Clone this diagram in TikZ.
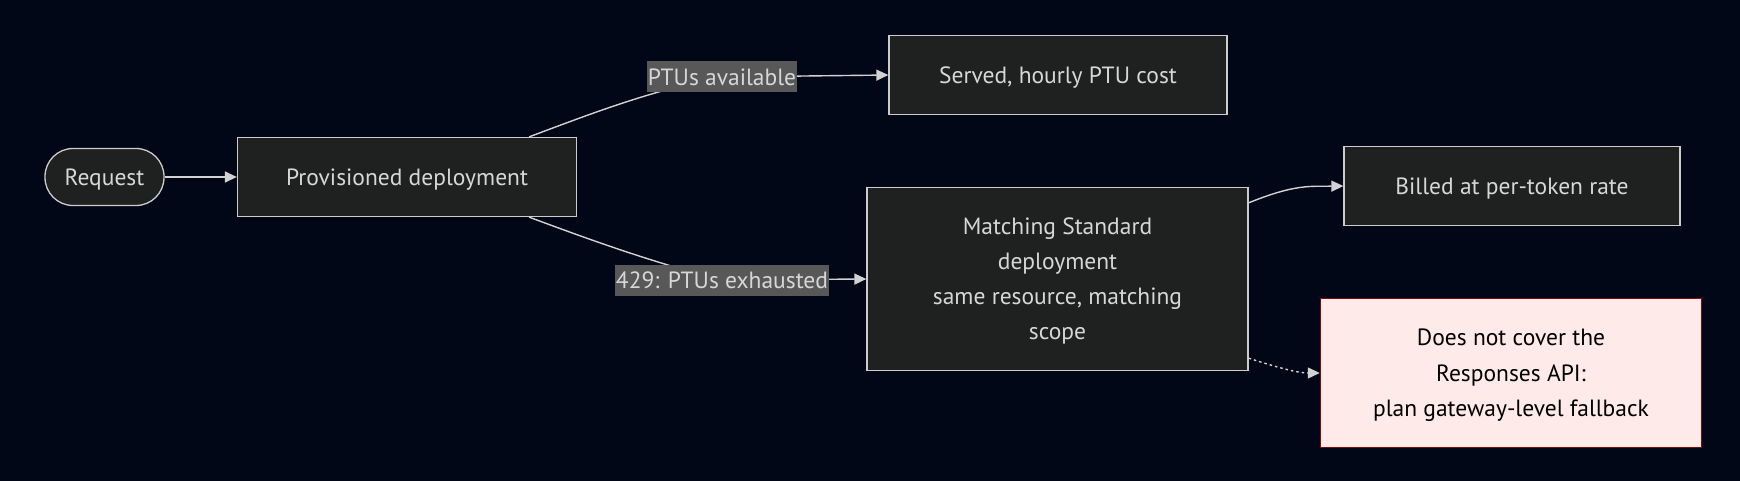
\documentclass[tikz,border=0pt]{standalone}
\usepackage{fontspec}
\setmainfont{PT Sans}
\usetikzlibrary{arrows.meta}
\definecolor{bgc}{RGB}{2,7,23}
\definecolor{nodefill}{RGB}{31,32,32}
\definecolor{nodeline}{RGB}{204,204,204}
\definecolor{txt}{RGB}{215,215,215}
\definecolor{edgec}{RGB}{210,210,210}
\definecolor{lblbg}{RGB}{88,88,88}
\definecolor{warnfill}{RGB}{255,234,234}
\definecolor{warnline}{RGB}{130,10,10}
\tikzset{
  box/.style={draw=nodeline, fill=nodefill, line width=1.3pt, text=txt, align=center,
    font=\fontsize{23.5}{35}\selectfont, inner sep=0pt, text depth=0pt},
  warnbox/.style={draw=warnline, fill=warnfill, line width=1.5pt, text=black, align=center,
    font=\fontsize{23.5}{35.5}\selectfont, inner sep=0pt, text depth=0pt},
  lbl/.style={fill=lblbg, text=txt, font=\fontsize{23.5}{26}\selectfont, inner sep=1pt,
    minimum height=31pt},
  edge/.style={draw=edgec, line width=1.4pt, -{Triangle[length=12pt,width=11pt]}},
  plainedge/.style={draw=edgec, line width=1.4pt},
}
\begin{document}
\begin{tikzpicture}[x=1pt,y=-1pt]
\fill[bgc] (0,0) rectangle (1740,481);
\useasboundingbox (0,0) rectangle (1740,481);

\node[box, rounded corners=28pt, minimum width=119pt, minimum height=57pt] (req) at (104.5,177) {Request};
\node[box, minimum width=339pt, minimum height=79pt] (prov) at (407,177) {Provisioned deployment};
\node[box, minimum width=338pt, minimum height=79pt] (served) at (1058,75) {Served, hourly PTU cost};
\node[box, minimum width=381pt, minimum height=183pt] (match) at (1057.5,279) {Matching Standard\\deployment\\same resource, matching\\scope};
\node[box, minimum width=336pt, minimum height=79pt] (billed) at (1512,186) {Billed at per-token rate};
\node[warnbox, minimum width=381pt, minimum height=149pt] (warn) at (1511,373) {Does not cover the\\Responses API:\\plan gateway-level fallback};

\coordinate (l1) at (722,77);
\coordinate (l2) at (722,280);

\draw[edge] (req.east) -- (prov.west);
\draw[plainedge] ([xshift=-48pt]prov.north east) .. controls (580,118) and (650,90) .. (l1);
\draw[edge] (l1) -- (served.west);
\draw[plainedge] ([xshift=-48pt]prov.south east) .. controls (580,236) and (650,262) .. (l2);
\draw[edge] (l2) -- (match.west);
\draw[edge] ([yshift=-16pt]match.north east) .. controls (1295,184) and (1310,186.5) .. (billed.west);
\draw[edge, dash pattern=on 2.5pt off 3pt] ([yshift=13pt]match.south east) .. controls (1285,370) and (1300,373) .. (warn.west);

\node[lbl] (lab1) at (l1) {PTUs available};
\node[lbl] (lab2) at (l2) {429: PTUs exhausted};
\end{tikzpicture}
\end{document}
